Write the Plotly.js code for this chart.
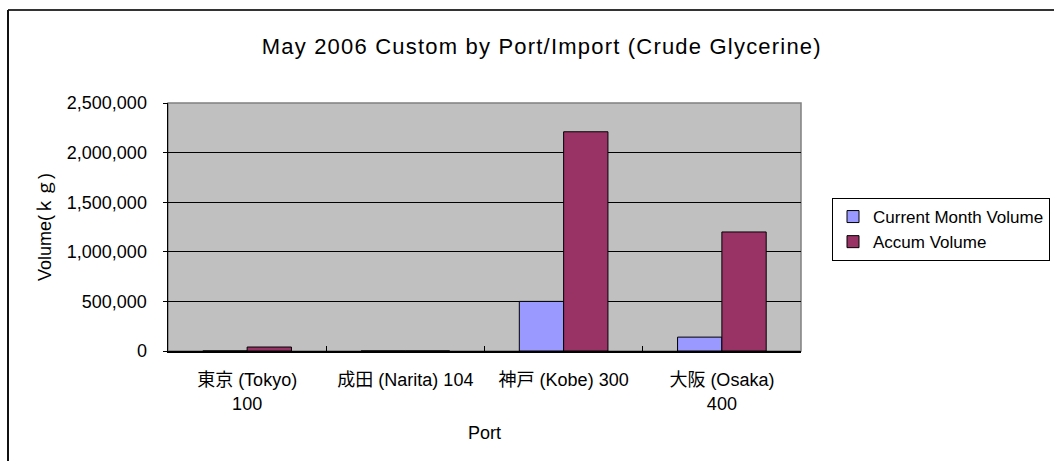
<!DOCTYPE html>
<html>
<head>
<meta charset="utf-8">
<script src="https://cdn.plot.ly/plotly-3.0.1.min.js"></script>
<style>
html,body{margin:0;padding:0;background:#fff;}
#chart{width:1054px;height:461px;}
#chart .gtitle{letter-spacing:1.2px;}
</style>
</head>
<body>
<div id="chart"></div>
<script>
const ports = ["東京 (Tokyo)<br>100", "成田 (Narita) 104", "神戸 (Kobe) 300", "大阪 (Osaka)<br>400"];
const currentMonthVolume = [0, 0, 500000, 140000];
const accumVolume = [40000, 0, 2210000, 1200000];
const seriesNames = ["Current Month Volume", "Accum Volume"];
const yTicks = [0, 500000, 1000000, 1500000, 2000000, 2500000];

const font = "Liberation Sans, Arial, Noto Sans CJK JP, sans-serif";
const plotL = 168, plotR = 801, plotT = 103, plotB = 351;
const pw = plotR - plotL, ph = plotB - plotT;

const traces = [
  {type: "bar", name: seriesNames[0], x: ports, y: currentMonthVolume,
   marker: {color: "#9999FF", line: {color: "#000000", width: 1}}},
  {type: "bar", name: seriesNames[1], x: ports, y: accumVolume,
   marker: {color: "#993366", line: {color: "#000000", width: 1}}}
];

const layout = {
  width: 1054, height: 461,
  margin: {l: plotL, r: 1054 - plotR, t: plotT, b: 461 - plotB, autoexpand: false},
  paper_bgcolor: "#ffffff",
  plot_bgcolor: "#C0C0C0",
  font: {family: font, size: 18, color: "#000"},
  title: {text: "May 2006 Custom by Port/Import (Crude Glycerine)",
          font: {family: font, size: 22, color: "#000"},
          x: 0.514, xanchor: "center", y: 0.9, yanchor: "middle"},
  barmode: "group",
  bargap: 0.44,
  bargroupgap: 0,
  showlegend: true,
  legend: {x: (832 - plotL) / pw, xanchor: "left", y: (plotB - 198) / ph, yanchor: "top",
           bordercolor: "#000", borderwidth: 1, bgcolor: "#fff",
           font: {family: font, size: 17, color: "#000"},
           tracegroupgap: 0, itemwidth: 30},
  xaxis: {
    type: "category",
    title: {text: "Port", font: {family: font, size: 18}, standoff: 14},
    tickangle: 0,
    ticks: "inside", tickson: "boundaries", ticklen: 5, tickcolor: "#000",
    ticklabelstandoff: 12,
    showline: true, linecolor: "#000", linewidth: 1.5,
    mirror: false, showgrid: false,
    tickfont: {family: font, size: 18, color: "#000"}
  },
  yaxis: {
    title: {text: "Volume(ｋｇ)", font: {family: font, size: 18}, standoff: 10},
    range: [0, 2500000],
    tickvals: yTicks,
    tickformat: ",d",
    ticks: "outside", ticklen: 4, tickcolor: "#000",
    ticklabelstandoff: 12,
    showline: true, linecolor: "#000", linewidth: 1.5,
    showgrid: true, gridcolor: "#000", gridwidth: 1,
    zeroline: false,
    tickfont: {family: font, size: 18, color: "#000"}
  },
  shapes: [
    {type: "rect", xref: "paper", yref: "paper", x0: 0, x1: 1, y0: 0, y1: 1,
     line: {color: "#808080", width: 1.5}, fillcolor: "rgba(0,0,0,0)", layer: "below"},
    {type: "line", xref: "paper", yref: "paper",
     x0: (8 - plotL) / pw, x1: 1.6, y0: (plotB - 10) / ph, y1: (plotB - 10) / ph,
     line: {color: "#333", width: 2}},
    {type: "line", xref: "paper", yref: "paper",
     x0: (8 - plotL) / pw, x1: (8 - plotL) / pw, y0: -0.6, y1: (plotB - 10) / ph,
     line: {color: "#111", width: 2}}
  ]
};

Plotly.newPlot("chart", traces, layout, {displayModeBar: false, staticPlot: true});
</script>
</body>
</html>
